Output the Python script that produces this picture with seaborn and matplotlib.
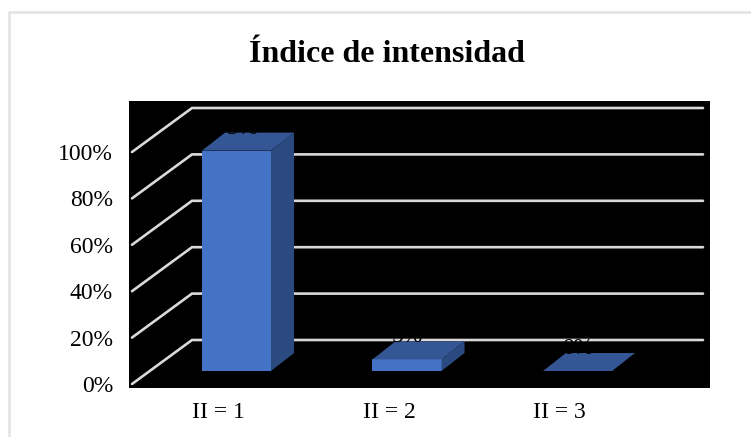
import numpy as np
import pandas as pd
import matplotlib
matplotlib.use("Agg")
import matplotlib.pyplot as plt
import seaborn as sns

categories = ["II = 1", "II = 2", "II = 3"]
values = [95, 5, 0]
value_labels = ["95%", "5%", "0%"]
grid_values = [0, 20, 40, 60, 80, 100]
grid_labels = ["0%", "20%", "40%", "60%", "80%", "100%"]
title = "Índice de intensidad"

W, H = 751, 437
sns.set_theme(style="white")
plt.rcParams["font.family"] = ["Liberation Serif", "DejaVu Serif"]

fig = plt.figure(figsize=(W / 100, H / 100), dpi=100, facecolor="white")
L, R, T, B = 129, 710, 101, 388
ax = fig.add_axes([L / W, 1 - B / H, (R - L) / W, (B - T) / H], facecolor="black")

df = pd.DataFrame({"cat": categories, "val": values})
bw = 0.405
sns.barplot(data=df, x="cat", y="val", color="#4472C4", saturation=1,
            width=bw, ax=ax, zorder=3, linewidth=0, edgecolor="none")

px_y = 2.32          # pixels per percent
px_x = 170.5         # pixels per category
x0, base = 236.5, 371
ax.set_xlim((L - x0) / px_x, (R - x0) / px_x)
ax.set_ylim((base - B) / px_y, (base - T) / px_y)

# floor plane offsets of the 3D frame
front_x, front_y = (132 - x0) / px_x, (base - 384) / px_y
back_x, back_y = (192 - x0) / px_x, (base - 340) / px_y
end_x = (703 - x0) / px_x
for g in grid_values:
    ax.plot([front_x, back_x, end_x], [g + front_y, g + back_y, g + back_y],
            color="#D9D9D9", lw=1.9, solid_joinstyle="miter", zorder=1)

# depth of the bars
dx, dy = 23 / px_x, 18 / px_y
for i, v in enumerate(values):
    l, r = i - bw / 2, i + bw / 2
    ax.fill([l, r, r + dx, l + dx], [v, v, v + dy, v + dy], color="#345694", lw=0, zorder=4)
    if v > 0:
        ax.fill([r, r + dx, r + dx, r], [0, dy, v + dy, v], color="#2B4A7F", lw=0, zorder=4)
    ax.text(i, v + dy - 0.4, value_labels[i], color="black", fontsize=17,
            ha="center", va="baseline", zorder=5)

ax.set_xlabel("")
ax.set_ylabel("")
ax.set_yticks([g + front_y for g in grid_values], grid_labels, fontsize=17, color="black")
ax.set_xticks([i - 18 / px_x for i in range(len(categories))], categories, fontsize=17, color="black")
ax.tick_params(axis="y", length=0, pad=11.5)
ax.tick_params(axis="x", length=0, pad=10)
for s in ax.spines.values():
    s.set_visible(False)

fig.text(387 / W, 1 - 62 / H, title, fontsize=23, fontweight="bold", color="black",
         ha="center", va="baseline")

# chart frame
fig.add_artist(plt.Line2D([9 / W, 9 / W, 1], [0, 1 - 12 / H, 1 - 12 / H],
                          color="#E3E3E3", lw=1.9, transform=fig.transFigure))

fig.savefig("out.png", dpi=100, facecolor="white")
